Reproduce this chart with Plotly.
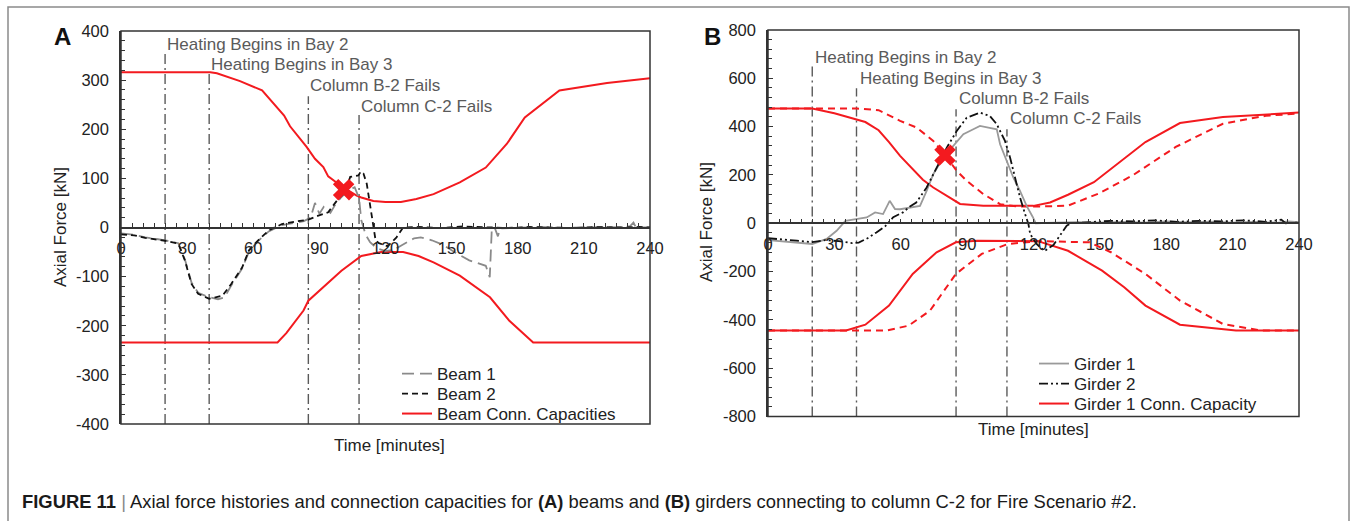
import plotly.graph_objects as go

# ---------------- shared definitions ----------------
time_ticks = [0, 30, 60, 90, 120, 150, 180, 210, 240]
event_times = [20, 40, 85, 108]
event_labels = ["Heating Begins in Bay 2", "Heating Begins in Bay 3",
                "Column B-2 Fails", "Column C-2 Fails"]

# ---------------- panel A: beams ----------------
event_top_a = [355, 316, 267, 229]
event_label_y_a = [373, 331, 290, 247]
y_ticks_a = [-400, -300, -200, -100, 0, 100, 200, 300, 400]

beam1_t = [0, 6, 11, 20, 26, 29, 32, 35, 40, 44, 47, 50, 55, 58, 62, 67, 73, 79, 83, 86,
           88, 90, 92, 95, 97, 100, 103, 106, 108, 109, 111, 113, 116, 120, 124, 127, 130,
           133, 136, 141, 146, 152, 158, 163, 165.5, 167.3, 168.2, 169.5, 171, 172, 180,
           190, 200, 210, 220, 228, 231, 232.5, 234, 236, 240]
beam1_f = [-12, -15, -20, -26, -32, -65, -112, -133, -142, -146, -142, -118, -83, -50, -28, -8,
           5, 10, 13, 20, 50, 28, 42, 30, 45, 62, 75, 82, 60, 15, -15, -30, -42, -48, -45, -37,
           -30, -22, -20, -26, -35, -52, -67, -75, -78, -101, -6, 0, -18, -2, 0,
           1, -1, 0, 1, 0, 3, 10, -3, 0, 0]

beam2_t = [0, 6, 11, 20, 26, 29, 32, 35, 40, 46, 50, 55, 58, 62, 67, 73, 79, 85, 89.5, 94,
           98, 101.6, 104, 107.7, 108.8, 110, 111.5, 113, 114.5, 115.5, 117, 121, 125, 128,
           135, 145, 155, 165, 175, 185, 195, 205, 215, 225, 235, 240]
beam2_f = [-14, -16, -21, -27, -33, -67, -115, -135, -145, -139, -115, -81, -47, -27, -6, 7,
           12, 16, 24, 31, 55, 72, 103, 106, 114, 110, 89, 48, 0, -26, -32, -38, -20, 0,
           1, -1, 2, 0, -1, 1, 0, -1, 1, 0, 1, 0]

cap_a_up_t = [0, 40.5, 43.5, 54, 64, 74, 76.7, 84.2, 88, 91.8, 94, 99.4, 106.9, 109, 114.5,
              120, 127, 134, 141.8, 153.7, 165.5, 175, 183.2, 198.9, 220.5, 240]
cap_a_up_f = [316, 316, 314, 298, 279, 228, 206, 164, 140, 123, 104, 86, 65, 61, 54,
              52, 52, 58, 68, 92, 122, 170, 224, 279, 294, 304]

cap_a_lo_t = [0, 71, 75, 82.8, 85, 94, 100, 109, 118, 128, 135, 141.8, 153.7, 167.4,
              176.2, 187, 240]
cap_a_lo_f = [-234, -234, -215, -169, -149, -112, -88, -58, -50, -50, -58, -71, -98, -142,
              -190, -234, -234]

failure_a_t = [101]
failure_a_f = [77]

# ---------------- panel B: girders ----------------
event_top_b = [665, 559, 472, 389]
event_label_y_b = [688, 601, 515, 432]
y_ticks_b = [-800, -600, -400, -200, 0, 200, 400, 600, 800]

girder1_t = [0, 11, 20, 26.5, 31, 35, 40, 44.6, 48.4, 52, 55, 57.4, 59.7, 64, 68.7, 71.7,
             74.7, 79.2, 83.8, 88.3, 92.8, 95.8, 99.6, 103.4, 104.9, 107.9, 110.9, 113.9,
             116.9, 119.6, 121, 130, 140, 150, 160, 170, 180, 190, 200, 210, 220, 230, 235, 240]
girder1_f = [-70, -79, -86, -65, -31, 10, 17, 24, 45, 38, 93, 59, 58, 65, 72, 134,
             203, 272, 320, 369, 389, 403, 396, 389, 327, 258, 189, 134,
             72, 27, 0, 3, 5, 2, 6, 3, 8, 4, 7, 3, 6, 2, 8, 5]

girder2_t = [0, 6, 13, 20, 26, 32, 38, 41, 45, 49, 53, 56.6, 61, 64, 67, 71.7, 76.2, 80.8,
             85.3, 89.8, 95.8, 100.3, 103.4, 107.1, 109.4, 111.6, 113.9, 116.2, 117.7,
             118.5, 121.4, 125, 129, 132, 135, 137, 145, 155, 165, 175, 185, 195, 205,
             215, 225, 232, 234, 240]
girder2_f = [-62, -68, -72, -78, -70, -74, -82, -80, -62, -38, -12, 25, 45, 68, 86, 148,
             231, 313, 382, 437, 458, 444, 410, 341, 272, 189, 107, 38, -3,
             -45, -86, -115, -90, -50, -10, 0, 5, 10, 8, 12, 6, 10, 8,
             12, 6, 15, 0, 3]

cap_g1_up_t = [0, 20, 30, 44, 50, 54.7, 59.7, 65.4, 70, 74.7, 82.3, 86.8, 97.3, 120, 127.5,
               135.6, 147.3, 159, 170.6, 186.2, 205.6, 240]
cap_g1_up_f = [475, 475, 455, 419, 385, 336, 279, 222, 180, 148, 107, 80, 72, 72, 86,
               118, 170, 253, 336, 415, 440, 458]

cap_g1_lo_t = [0, 35.3, 44, 54.7, 65.4, 76.2, 84.9, 94.6, 122, 135.6, 151, 161, 170.6,
               186.2, 211.5, 240]
cap_g1_lo_f = [-444, -444, -420, -341, -210, -120, -79, -72, -74, -114, -196, -265, -341,
               -420, -444, -444]

cap_g2_up_t = [0, 40, 50, 59.7, 67.2, 74.7, 79, 85.3, 89.8, 97.3, 104.9, 112, 122, 135.6,
               149.2, 164.8, 184.3, 205.6, 225, 240]
cap_g2_up_f = [475, 475, 468, 424, 396, 341, 295, 217, 176, 121, 79, 70, 69, 73,
               122, 198, 316, 412, 445, 454]

cap_g2_lo_t = [0, 53.7, 63.5, 73.2, 84.9, 96.6, 108.3, 122, 145.3, 155, 170.6, 186.2,
               205.6, 223, 240]
cap_g2_lo_f = [-444, -444, -424, -362, -210, -127, -86, -74, -79, -120, -210, -320,
               -417, -444, -444]

failure_b_t = [80]
failure_b_f = [282]

# ---------------- styling ----------------
FONT = "Liberation Sans, Arial, sans-serif"
RED = "#f31a1f"
EVENT_COLOR = "#5a5a5a"
EVENT_DASH = "10px,4px,2px,4px"
AXIS_COLOR = "#333333"
TEXT_SIZE = 17
W, H = 1356, 521

# plot-area rectangles in pixels: (left, right, top, bottom)
box_a = (121, 650, 31, 424)
box_b = (768, 1299, 30, 416.5)


def xdom(box):
    return [box[0] / W, box[1] / W]


def ydom(box):
    return [1 - box[3] / H, 1 - box[2] / H]


def px(xp, yp):
    """pixel position -> paper coordinates"""
    return xp / W, 1 - yp / H


fig = go.Figure()


def add_events(xa, ya, ymin, tops):
    for t, top in zip(event_times, tops):
        fig.add_trace(go.Scatter(x=[t, t], y=[ymin, top], mode="lines", xaxis=xa, yaxis=ya,
                                 line=dict(color=EVENT_COLOR, width=1.4, dash=EVENT_DASH),
                                 showlegend=False, hoverinfo="skip"))


# ---- panel A traces ----
add_events("x", "y", -400, event_top_a)
fig.add_trace(go.Scatter(x=cap_a_up_t, y=cap_a_up_f, mode="lines", name="Beam Conn. Capacities",
                         line=dict(color=RED, width=2), legendgroup="capA",
                         xaxis="x", yaxis="y", legend="legend3"))
fig.add_trace(go.Scatter(x=cap_a_lo_t, y=cap_a_lo_f, mode="lines", name="Beam Conn. Capacities",
                         line=dict(color=RED, width=2), legendgroup="capA", showlegend=False,
                         xaxis="x", yaxis="y", legend="legend3"))
fig.add_trace(go.Scatter(x=beam1_t, y=beam1_f, mode="lines", name="Beam 1",
                         line=dict(color="#8a8a8a", width=1.8, dash="12px,6px"),
                         xaxis="x", yaxis="y", legend="legend"))
fig.add_trace(go.Scatter(x=beam2_t, y=beam2_f, mode="lines", name="Beam 2",
                         line=dict(color="#111111", width=1.8, dash="6px,4px"),
                         xaxis="x", yaxis="y", legend="legend2"))
fig.add_trace(go.Scatter(x=failure_a_t, y=failure_a_f, mode="markers", showlegend=False,
                         marker=dict(symbol="x", size=19, color=RED, line=dict(width=0)),
                         xaxis="x", yaxis="y"))

# ---- panel B traces ----
add_events("x2", "y2", -800, event_top_b)
fig.add_trace(go.Scatter(x=cap_g1_up_t, y=cap_g1_up_f, mode="lines", name="Girder 1 Conn. Capacity",
                         line=dict(color=RED, width=2), legendgroup="capB",
                         xaxis="x2", yaxis="y2", legend="legend6"))
fig.add_trace(go.Scatter(x=cap_g1_lo_t, y=cap_g1_lo_f, mode="lines", name="Girder 1 Conn. Capacity",
                         line=dict(color=RED, width=2), legendgroup="capB", showlegend=False,
                         xaxis="x2", yaxis="y2", legend="legend6"))
fig.add_trace(go.Scatter(x=cap_g2_up_t, y=cap_g2_up_f, mode="lines", showlegend=False,
                         line=dict(color=RED, width=2, dash="7px,5px"),
                         xaxis="x2", yaxis="y2"))
fig.add_trace(go.Scatter(x=cap_g2_lo_t, y=cap_g2_lo_f, mode="lines", showlegend=False,
                         line=dict(color=RED, width=2, dash="7px,5px"),
                         xaxis="x2", yaxis="y2"))
fig.add_trace(go.Scatter(x=girder1_t, y=girder1_f, mode="lines", name="Girder 1",
                         line=dict(color="#9a9a9a", width=1.8),
                         xaxis="x2", yaxis="y2", legend="legend4"))
fig.add_trace(go.Scatter(x=girder2_t, y=girder2_f, mode="lines", name="Girder 2",
                         line=dict(color="#111111", width=1.8, dash="9px,3px,2px,3px,2px,3px"),
                         xaxis="x2", yaxis="y2", legend="legend5"))
fig.add_trace(go.Scatter(x=failure_b_t, y=failure_b_f, mode="markers", showlegend=False,
                         marker=dict(symbol="x", size=19, color=RED, line=dict(width=0)),
                         xaxis="x2", yaxis="y2"))


def x_axis(box, ydomain):
    return dict(domain=xdom(box), range=[0, 240], anchor="free", automargin=False,
                position=(ydomain[0] + ydomain[1]) / 2,
                tickvals=time_ticks, ticktext=[str(v) for v in time_ticks],
                ticks="inside", ticklen=4, tickwidth=1, tickcolor=AXIS_COLOR,
                minor=dict(dtick=5, ticks="inside", ticklen=4, tickcolor=AXIS_COLOR),
                showline=True, linecolor=AXIS_COLOR, linewidth=1.5,
                showgrid=False, zeroline=False, ticklabelstandoff=6,
                tickfont=dict(family=FONT, size=16.5, color="#222222"))


def y_axis(box, ticks, minor_step, xa):
    return dict(domain=ydom(box), range=[ticks[0], ticks[-1]], anchor=xa, automargin=False,
                tickvals=ticks, ticktext=[str(v) for v in ticks],
                ticks="inside", ticklen=5, tickwidth=1, tickcolor=AXIS_COLOR,
                minor=dict(dtick=minor_step, ticks="inside", ticklen=4, tickcolor=AXIS_COLOR),
                showline=True, linecolor=AXIS_COLOR, linewidth=1.5,
                showgrid=False, zeroline=False, ticklabelstandoff=7,
                tickfont=dict(family=FONT, size=16.5, color="#222222"))


annotations = []
for t, lbl, yy in zip(event_times, event_labels, event_label_y_a):
    annotations.append(dict(x=t, y=yy, xref="x", yref="y", text=lbl, showarrow=False,
                            xanchor="left", yanchor="middle", xshift=0,
                            font=dict(family=FONT, size=TEXT_SIZE, color="#5a5a5a")))
for t, lbl, yy in zip(event_times, event_labels, event_label_y_b):
    annotations.append(dict(x=t, y=yy, xref="x2", yref="y2", text=lbl, showarrow=False,
                            xanchor="left", yanchor="middle", xshift=1,
                            font=dict(family=FONT, size=TEXT_SIZE, color="#5a5a5a")))

label_font = dict(family=FONT, size=TEXT_SIZE, color="#222222")


def paper_text(xp, yp, text, font, angle=0, xanchor="center"):
    x, y = px(xp, yp)
    return dict(x=x, y=y, xref="paper", yref="paper", text=text, textangle=angle,
                showarrow=False, xanchor=xanchor, yanchor="middle", font=font)


annotations += [
    paper_text(60, 227, "Axial Force [kN]", label_font, angle=-90),
    paper_text(706, 222, "Axial Force [kN]", label_font, angle=-90),
    paper_text(389, 445, "Time [minutes]", label_font),
    paper_text(1033, 429, "Time [minutes]", label_font),
    paper_text(62, 36, "<b>A</b>", dict(family=FONT, size=24, color="#111111")),
    paper_text(713, 36, "<b>B</b>", dict(family=FONT, size=24, color="#111111")),
    paper_text(20, 501,
               "<b>FIGURE 11</b> <span style='color:#888'>|</span> Axial force histories and "
               "connection capacities for <b>(A)</b> beams and <b>(B)</b> girders connecting "
               "to column C-2 for Fire Scenario #2.",
               dict(family=FONT, size=18.4, color="#1a1a1a"), xanchor="left"),
]

shapes = [
    # outer frame
    dict(type="rect", xref="paper", yref="paper", x0=8 / W, x1=1349 / W,
         y0=-0.05, y1=1 - 7 / H, line=dict(color="#8a8a8a", width=1.5)),
    # plot boxes
    dict(type="rect", xref="x domain", yref="y domain", x0=0, x1=1, y0=0, y1=1,
         line=dict(color=AXIS_COLOR, width=1.5)),
    dict(type="rect", xref="x2 domain", yref="y2 domain", x0=0, x1=1, y0=0, y1=1,
         line=dict(color=AXIS_COLOR, width=1.5)),
]

legend_style = dict(font=dict(family=FONT, size=TEXT_SIZE, color="#222222"),
                    bgcolor="rgba(0,0,0,0)", borderwidth=0, xanchor="left",
                    yanchor="middle", itemwidth=30)

# one legend box per entry so the rows sit at fixed spacing
legend_x_a, legend_rows_a = 397, [374, 394, 414]
legend_x_b, legend_rows_b = 1034, [364, 384, 404]
legend_layout = {}
for i, row in enumerate(legend_rows_a):
    key = "legend" if i == 0 else f"legend{i + 1}"
    legend_layout[key] = dict(x=legend_x_a / W, y=1 - row / H, **legend_style)
for i, row in enumerate(legend_rows_b):
    legend_layout[f"legend{i + 4}"] = dict(x=legend_x_b / W, y=1 - row / H, **legend_style)

fig.update_layout(
    width=W, height=H, margin=dict(l=0, r=0, t=0, b=0, pad=0, autoexpand=False),
    paper_bgcolor="white", plot_bgcolor="white",
    xaxis=x_axis(box_a, ydom(box_a)),
    yaxis=y_axis(box_a, y_ticks_a, 20, "x"),
    xaxis2=x_axis(box_b, ydom(box_b)),
    yaxis2=y_axis(box_b, y_ticks_b, 40, "x2"),
    annotations=annotations, shapes=shapes,
    font=dict(family=FONT),
    **legend_layout,
)

fig.write_html("out.html", post_script="document.body.style.margin='0';")
